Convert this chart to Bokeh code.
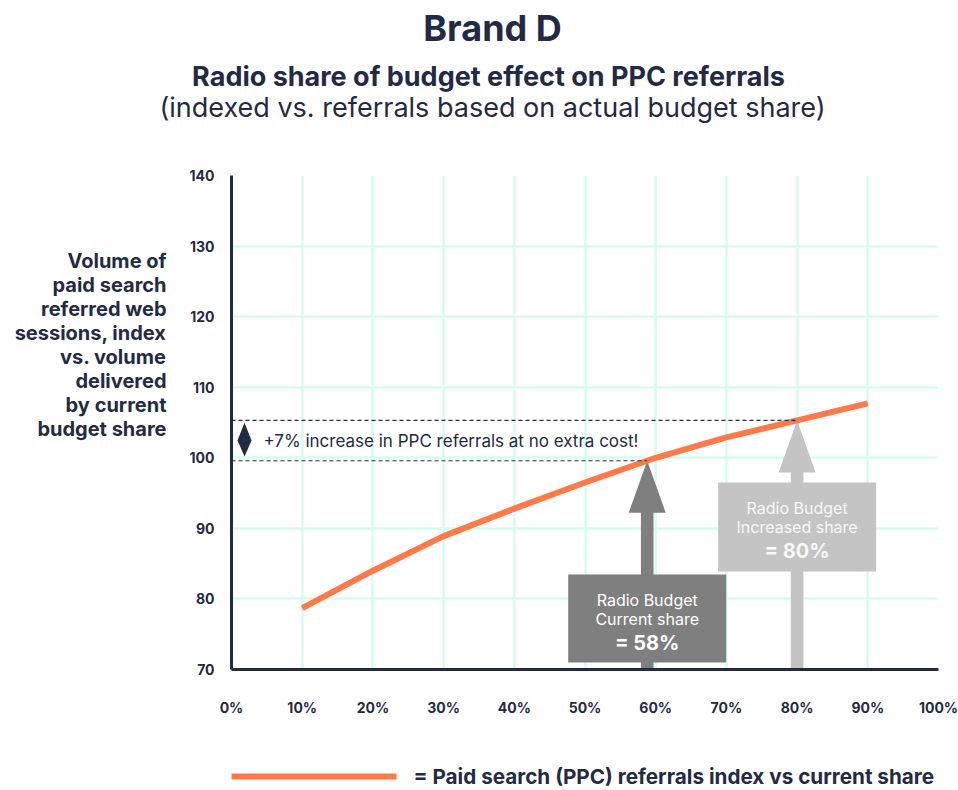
import numpy as np
from bokeh.plotting import figure
from bokeh.models import Range1d, FixedTicker, Label
from bokeh.layouts import column, row
from bokeh.embed import file_html
from bokeh.resources import INLINE

# ---------------- data ----------------
share_pct = [10, 20, 30, 40, 50, 60, 70, 80, 90]
ppc_index = [78.7, 84.0, 88.9, 92.8, 96.5, 100.0, 102.9, 105.3, 107.7]

x_ticks = [0, 10, 20, 30, 40, 50, 60, 70, 80, 90, 100]
x_tick_labels = ["0%", "10%", "20%", "30%", "40%", "50%", "60%", "70%", "80%", "90%", "100%"]
y_ticks = [70, 80, 90, 100, 110, 120, 130, 140]

current_share = 58.8
current_text = ["Radio Budget", "Current share", "= 58%"]
increased_share = 80
increased_text = ["Radio Budget", "Increased share", "= 80%"]
uplift_text = "+7% increase in PPC referrals at no extra cost!"

title_text = "Brand D"
subtitle_1 = "Radio share of budget effect on PPC referrals"
subtitle_2 = "(indexed vs. referrals based on actual budget share)"
y_title_lines = ["Volume of", "paid search", "referred web", "sessions, index",
                 "vs. volume", "delivered", "by current", "budget share"]
legend_text = "= Paid search (PPC) referrals index vs current share"

# ---------------- style ----------------
NAVY = "#222b45"
ORANGE = "#ff7a48"
GRID = "#d8fbef"
DARK_GREY = "#7f7f80"
LIGHT_GREY = "#c4c4c4"
FONT = "Inter"

W, H = 958, 790
TOP_H = 150           # title strip height
LEFT_W = 175          # y-title strip width
X0, X1, Y0, Y1 = 0, 100, 70, 140
FL, FR, FT, FB = 231, 938, 175, 669   # frame edges in page pixels
MID_H = 729 - TOP_H
BOT_H = H - TOP_H - MID_H

xpp = (X1 - X0) / (FR - FL)
ypp = (Y1 - Y0) / (FB - FT)


def sx(px):  # page px -> data x
    return X0 + (px - FL) * xpp


def sy(py):  # page px -> data y
    return Y1 - (py - FT) * ypp


def blank(width, height, y_top, y_bottom):
    f = figure(width=width, height=height, x_range=Range1d(0, width),
               y_range=Range1d(y_bottom, y_top), x_axis_type=None, y_axis_type=None,
               output_backend="svg", toolbar_location=None, min_border=0)
    f.outline_line_color = None
    f.background_fill_color = "white"
    f.border_fill_color = "white"
    return f


def add_label(fig, x, y, text, size, style="normal", color=NAVY, align="center"):
    fig.add_layout(Label(x=x, y=y, text=text, text_font=FONT, text_font_size=size,
                         text_font_style=style, text_color=color, text_align=align,
                         text_baseline="middle"))

# ---------------- title strip (page pixel coordinates) ----------------
ft = blank(W, TOP_H, 0, TOP_H)
add_label(ft, 492, 27, title_text, "36px", "bold")
add_label(ft, 488, 76, subtitle_1, "27px", "bold")
add_label(ft, 492, 107, subtitle_2, "27px", "normal")

# ---------------- y-title strip (frame aligned with chart frame) ----------------
fl = blank(LEFT_W, MID_H, FT, FB)
for i, line in enumerate(y_title_lines):
    add_label(fl, 166, 260 + 24 * i, line, "20px", "bold", align="right")

# ---------------- main chart ----------------
p = figure(width=W - LEFT_W, height=MID_H, x_range=Range1d(X0, X1), y_range=Range1d(Y0, Y1),
           output_backend="svg", toolbar_location=None,
           min_border_left=FL - LEFT_W, min_border_right=W - FR,
           min_border_top=FT - TOP_H, min_border_bottom=TOP_H + MID_H - FB)
p.outline_line_color = None
p.background_fill_color = "white"
p.border_fill_color = "white"

for ax, ticks in ((p.xaxis, x_ticks), (p.yaxis, y_ticks)):
    ax.ticker = FixedTicker(ticks=ticks)
    ax.axis_line_color = NAVY
    ax.axis_line_width = 3
    ax.major_tick_line_color = None
    ax.minor_tick_line_color = None
    ax.major_tick_out = 0
    ax.major_tick_in = 0
    ax.minor_tick_out = 0
    ax.major_label_text_font = FONT
    ax.major_label_text_font_size = "14px"
    ax.major_label_text_font_style = "bold"
    ax.major_label_text_color = NAVY
p.xaxis.major_label_overrides = {t: l for t, l in zip(x_ticks, x_tick_labels)}
p.xaxis.major_label_standoff = 29
p.yaxis.major_label_standoff = 17

p.xgrid.ticker = FixedTicker(ticks=x_ticks)
p.ygrid.ticker = FixedTicker(ticks=y_ticks)
for g in (p.xgrid, p.ygrid):
    g.grid_line_color = GRID
    g.grid_line_width = 2.5

# arrows & boxes
head_len = 52 * ypp
head_half = 18.5 * xpp
shaft_half = 6.3 * xpp
box_half = 79 * xpp


def arrow(xc, color):
    tip = float(np.interp(xc, share_pct, ppc_index))
    base = tip - head_len
    p.quad(left=xc - shaft_half, right=xc + shaft_half, bottom=Y0, top=base + 0.1,
           fill_color=color, line_color=None)
    p.patch([xc - head_half, xc, xc + head_half], [base, tip, base],
            fill_color=color, line_color=None)
    return tip


tip_cur = arrow(current_share, DARK_GREY)
tip_inc = arrow(increased_share, LIGHT_GREY)

p.quad(left=current_share - box_half, right=current_share + box_half,
       bottom=sy(662), top=sy(574), fill_color=DARK_GREY, line_color=None)
p.quad(left=increased_share - box_half, right=increased_share + box_half,
       bottom=sy(571), top=sy(482), fill_color=LIGHT_GREY, line_color=None)

# curve
curve_style = dict(line_width=6, line_color=ORANGE, line_cap="butt", line_join="round")
p.line(share_pct, ppc_index, **curve_style)

# dashed reference lines
p.line([X0, current_share], [tip_cur, tip_cur], line_color=NAVY, line_width=1.2, line_dash="4 3")
p.line([X0, increased_share], [tip_inc, tip_inc], line_color=NAVY, line_width=1.2, line_dash="4 3")

# diamond
dx = 7 * xpp
mid = (tip_cur + tip_inc) / 2
dcx = sx(244)
p.patch([dcx, dcx + dx, dcx, dcx - dx], [tip_inc - 0.35, mid, tip_cur + 0.6, mid],
        fill_color=NAVY, line_color=None)

add_label(p, sx(263), mid, uplift_text, "17px", align="left")

for txt, py, sz, st in zip(current_text, [599, 618, 642], ["16px", "16px", "20px"],
                           ["normal", "normal", "bold"]):
    add_label(p, current_share, sy(py), txt, sz, st, color="white")
for txt, py, sz, st in zip(increased_text, [507, 526, 550], ["16px", "16px", "20px"],
                           ["normal", "normal", "bold"]):
    add_label(p, increased_share, sy(py), txt, sz, st, color="#f7f7f7")

# ---------------- legend strip (page pixel coordinates, y from strip top) ----------------
fb = blank(W, BOT_H, 0, BOT_H)
LEG_Y = 776 - (TOP_H + MID_H)
fb.line([FL, FL + 165], [LEG_Y, LEG_Y], **curve_style)
add_label(fb, FL + 182, LEG_Y, legend_text, "20.7px", "bold", align="left")

layout = column(ft, row(fl, p, spacing=0), fb, spacing=0)
open("out.html", "w").write(file_html(layout, INLINE))
